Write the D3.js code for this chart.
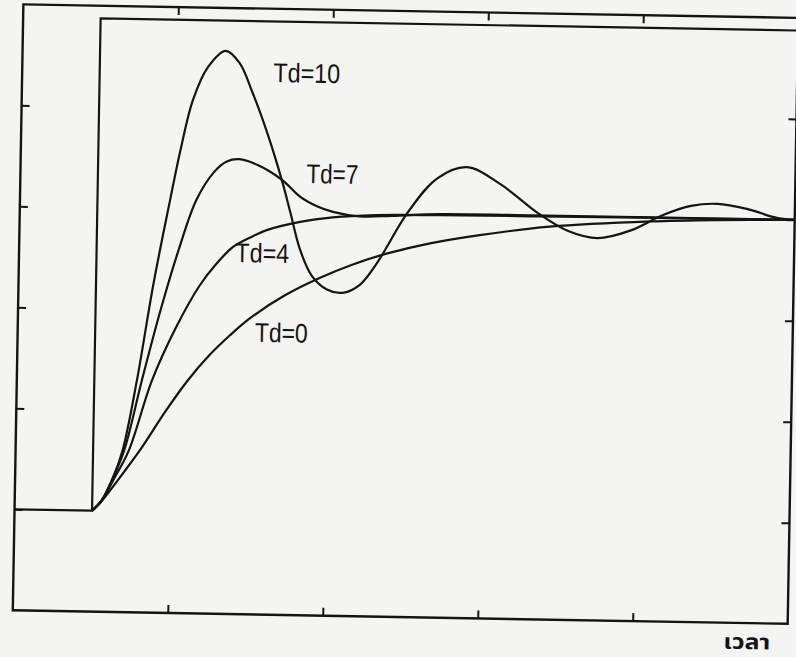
<!DOCTYPE html>
<html><head><meta charset="utf-8">
<script src="https://cdn.jsdelivr.net/npm/d3@7/dist/d3.min.js"></script>
<style>html,body{margin:0;padding:0;background:#f4f4f2;} svg{display:block}</style>
</head><body>
<svg id="chart" width="796" height="657"></svg>
<script>
// ---- data (time units, response units) ----
const xTicks = [10, 20, 30, 40];
const yTicks = [0, 20, 40, 60, 80];
const stepT = [0, 5, 5, 50];
const stepY = [0, 0, 97.5, 97.5];

const td10T = [5, 5.6, 6.3, 6.9, 7.75, 8.7, 9.7, 10.3, 11.05, 12.0, 13.1, 14.0, 14.9, 15.9, 16.9, 17.45, 18.1, 18.9, 19.9, 20.9, 22.0, 23.1, 25.0, 26.9, 28.8, 31.0, 33.4, 35.4, 37.3, 39.4, 41.5, 43.3, 45.0, 46.9, 48.9, 50];
const td10Y = [0, 2, 6.5, 12, 26, 45, 62, 71.7, 81.7, 88.3, 91.5, 89.2, 83.2, 75.2, 65.8, 59.8, 52.6, 47.3, 44.6, 44.0, 45.6, 50.0, 60.0, 67.0, 69.3, 66.0, 60.5, 57.0, 55.7, 57.3, 60.5, 62.4, 62.9, 62.0, 60.3, 60.0];

const td7T = [5, 5.6, 6.3, 7.0, 8.07, 9.2, 10.3, 11.4, 12.5, 13.3, 14.1, 15.3, 16.9, 18.1, 19.2, 20.2, 21.9, 24.0, 27.0, 32.0, 40.0, 50];
const td7Y = [0, 2, 6.5, 12, 26, 40, 52, 62, 67.5, 69.6, 70.1, 69.0, 66.1, 62.8, 61.0, 60.0, 59.2, 59.4, 59.9, 60.0, 60.0, 60.0];

const td4T = [5, 5.6, 6.4, 7.3, 8.72, 10.2, 11.7, 12.8, 13.8, 15.0, 16.0, 18.1, 20.2, 23.0, 27.0, 33.0, 40.0, 50];
const td4Y = [0, 2, 6.5, 12, 26, 36.5, 45.0, 49.5, 52.7, 54.8, 56.2, 57.9, 58.9, 59.5, 59.7, 59.8, 59.9, 60.0];

const td0T = [5, 5.5, 6.6, 8.1, 9.6, 11.0, 12.4, 13.7, 15.0, 17.2, 19.45, 21.5, 23.7, 26.5, 29.7, 34.2, 40.7, 45.0, 50];
const td0Y = [0, 1.5, 6, 12.5, 19.8, 26.0, 31.2, 35.2, 38.7, 43.3, 46.9, 49.6, 51.9, 54.1, 55.9, 57.8, 59.2, 59.7, 60.0];

const labelText = ["Td=10", "Td=7", "Td=4", "Td=0"];
const labelT = [16.2, 18.45, 13.95, 15.3];
const labelY = [85.5, 65.6, 49.7, 34.0];
const axisTitle = "เวลา";

// ---- layout ----
const svg = d3.select("#chart");
const g = svg.append("g").attr("transform", "rotate(1,400,315)");

const x = d3.scaleLinear().domain([0, 50]).range([18, 793]);
const y = d3.scaleLinear().domain([-20, 100]).range([617, 11]);
const ink = "#141414";

// frame
g.append("rect").attr("x", x(0)).attr("y", y(100))
  .attr("width", x(50) - x(0)).attr("height", y(-20) - y(100))
  .attr("fill", "none").attr("stroke", ink).attr("stroke-width", 2.4);

// inward ticks on four sides
function tickAxis(axis, tx, ty) {
  const a = g.append("g").attr("transform", `translate(${tx},${ty})`).call(axis);
  a.select(".domain").remove();
  a.selectAll("text").remove();
  a.selectAll("line").attr("stroke", ink).attr("stroke-width", 2);
}
tickAxis(d3.axisBottom(x).tickValues(xTicks).tickSize(-8), 0, y(-20));
tickAxis(d3.axisTop(x).tickValues(xTicks).tickSize(-8), 0, y(100));
tickAxis(d3.axisLeft(y).tickValues(yTicks).tickSize(-8), x(0), 0);
tickAxis(d3.axisRight(y).tickValues(yTicks).tickSize(-8), x(50), 0);

svg.append("defs").append("clipPath").attr("id", "plot")
  .append("rect").attr("x", x(0)).attr("y", y(100))
  .attr("width", x(50) - x(0)).attr("height", y(-20) - y(100));

const plot = g.append("g").attr("clip-path", "url(#plot)");

// step input
const stepLine = d3.line().x(d => x(d[0])).y(d => y(d[1]));
plot.append("path").datum(d3.zip(stepT, stepY)).attr("d", stepLine)
  .attr("fill", "none").attr("stroke", ink).attr("stroke-width", 2.2);

// responses
const curve = d3.line().x(d => x(d[0])).y(d => y(d[1])).curve(d3.curveCatmullRom.alpha(0.5));
[[td10T, td10Y], [td7T, td7Y], [td4T, td4Y], [td0T, td0Y]].forEach(([ts, ys]) => {
  plot.append("path").datum(d3.zip(ts, ys)).attr("d", curve)
    .attr("fill", "none").attr("stroke", ink).attr("stroke-width", 2.2)
    .attr("stroke-linejoin", "round");
});

// labels
const widths = [67, 52, 54, 53];
labelText.forEach((t, i) => {
  g.append("text").attr("x", x(labelT[i])).attr("y", y(labelY[i]))
    .attr("font-family", "'Liberation Sans', Arial, sans-serif")
    .attr("font-size", 27).attr("fill", ink)
    .attr("textLength", widths[i]).attr("lengthAdjust", "spacingAndGlyphs")
    .text(t);
});

// axis title (time)
g.append("text").attr("x", 729).attr("y", 643)
  .attr("font-family", "'Noto Sans Thai', 'Noto Sans', 'DejaVu Sans', sans-serif")
  .attr("font-weight", "bold").attr("font-size", 21).attr("fill", ink)
  .attr("textLength", 47).attr("lengthAdjust", "spacingAndGlyphs")
  .text(axisTitle);
</script>
</body></html>
